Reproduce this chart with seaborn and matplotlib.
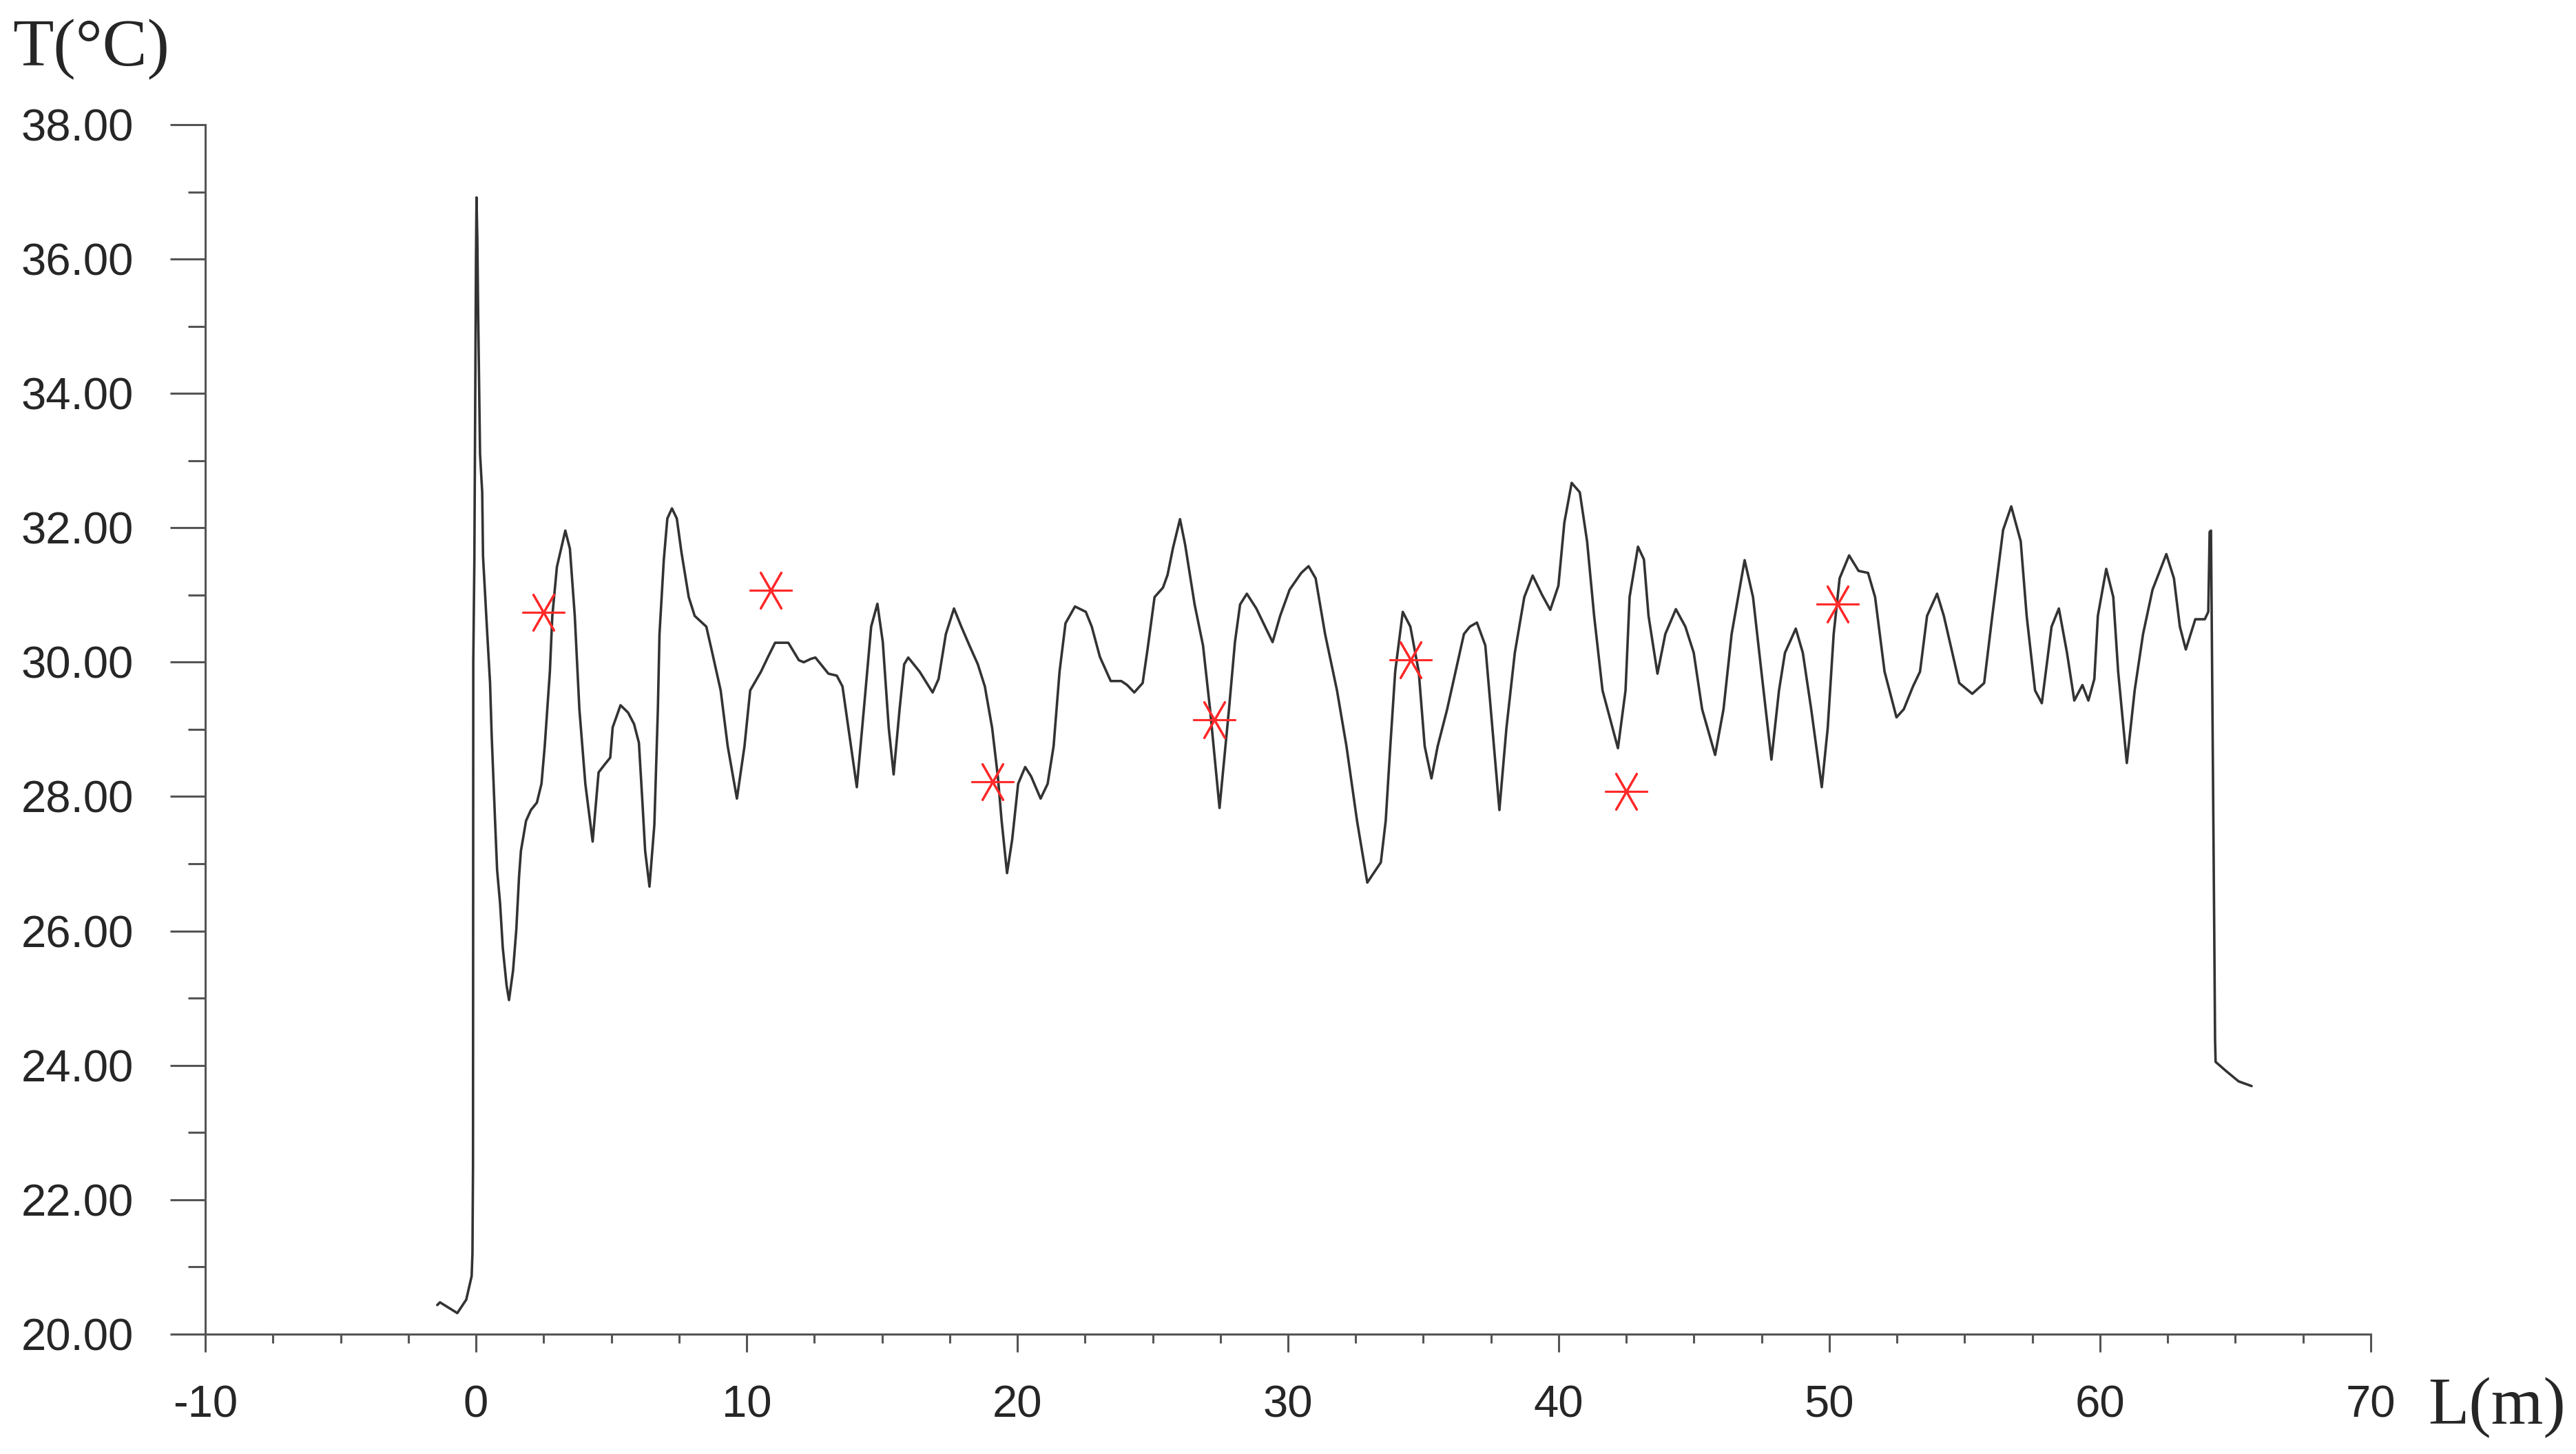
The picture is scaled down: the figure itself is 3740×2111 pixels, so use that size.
import numpy as np
import pandas as pd
import seaborn as sns
import matplotlib.pyplot as plt
from matplotlib.ticker import MultipleLocator, FormatStrFormatter

# temperature profile along the length
L_m = [-1.43, -1.33, -0.69, -0.36, -0.16, -0.13, -0.11, -0.10, -0.06, -0.02, 0.0, 0.02,
       0.05, 0.08, 0.12, 0.15, 0.23, 0.26, 0.41, 0.52, 0.58, 0.70, 0.78, 0.89, 0.99, 1.13,
       1.22, 1.37, 1.49, 1.59, 1.66, 1.85, 2.03, 2.25, 2.42, 2.54, 2.73, 2.82, 2.99, 3.30,
       3.47, 3.65, 3.82, 4.04, 4.31, 4.53, 4.74, 4.96, 5.05, 5.34, 5.62, 5.84, 6.02, 6.15,
       6.25, 6.41, 6.59, 6.72, 6.78, 6.94, 7.07, 7.24, 7.42, 7.59, 7.86, 8.08, 8.51, 8.73,
       9.04, 9.30, 9.64, 9.92, 10.13, 10.53, 10.79, 11.05, 11.54, 11.93, 12.11, 12.37,
       12.54, 13.02, 13.33, 13.54, 13.76, 14.07, 14.33, 14.60, 14.83, 15.03, 15.25, 15.43,
       15.65, 15.82, 15.97, 16.39, 16.87, 17.09, 17.36, 17.66, 17.93, 18.23, 18.54, 18.80,
       19.07, 19.28, 19.42, 19.62, 19.81, 20.03, 20.29, 20.51, 20.86, 21.12, 21.34, 21.56,
       21.78, 22.13, 22.53, 22.75, 23.05, 23.45, 23.84, 24.06, 24.32, 24.63, 24.81, 25.07,
       25.38, 25.55, 25.75, 26.01, 26.20, 26.55, 26.86, 27.12, 27.47, 27.82, 28.04, 28.23,
       28.48, 28.83, 29.43, 29.71, 30.06, 30.49, 30.76, 31.02, 31.37, 31.81, 32.16, 32.55,
       32.93, 33.43, 33.61, 33.78, 33.96, 34.24, 34.52, 34.83, 35.05, 35.30, 35.53, 35.88,
       36.19, 36.50, 36.72, 36.98, 37.29, 37.55, 37.81, 38.07, 38.38, 38.73, 39.04, 39.39,
       39.69, 39.99, 40.21, 40.48, 40.78, 41.05, 41.31, 41.62, 42.19, 42.47, 42.62, 42.93,
       43.15, 43.32, 43.65, 43.94, 44.33, 44.68, 44.99, 45.30, 45.78, 46.09, 46.39, 46.87,
       47.18, 47.49, 47.86, 48.14, 48.36, 48.76, 49.02, 49.33, 49.72, 49.94, 50.16, 50.38,
       50.73, 51.08, 51.43, 51.69, 52.04, 52.48, 52.75, 53.09, 53.35, 53.61, 53.98, 54.23,
       54.80, 55.28, 55.72, 56.02, 56.42, 56.72, 57.07, 57.29, 57.60, 57.85, 58.21, 58.48,
       58.78, 59.05, 59.35, 59.57, 59.79, 59.92, 60.23, 60.49, 60.67, 60.99, 61.28, 61.59,
       61.94, 62.45, 62.73, 62.95, 63.17, 63.52, 63.87, 64.00, 64.05, 64.10, 64.14, 64.22,
       64.25, 64.27, 64.64, 65.12, 65.60]
T_c = [20.43, 20.47, 20.31, 20.51, 20.86, 21.20, 22.50, 30.00, 31.50, 34.50, 36.00, 36.92,
       36.30, 35.20, 34.00, 33.10, 32.53, 31.58, 30.47, 29.69, 28.91, 27.69, 26.91, 26.41,
       25.75, 25.19, 24.97, 25.41, 26.02, 26.80, 27.19, 27.64, 27.80, 27.91, 28.19, 28.75,
       29.86, 30.69, 31.42, 31.96, 31.69, 30.69, 29.30, 28.19, 27.33, 28.36, 28.47, 28.58,
       29.03, 29.36, 29.25, 29.08, 28.80, 27.91, 27.19, 26.66, 27.58, 29.30, 30.42, 31.53,
       32.14, 32.29, 32.14, 31.64, 30.97, 30.69, 30.53, 30.14, 29.58, 28.75, 27.97, 28.75,
       29.58, 29.86, 30.08, 30.29, 30.29, 30.03, 30.00, 30.05, 30.07, 29.83, 29.80, 29.64,
       29.02, 28.14, 29.30, 30.53, 30.87, 30.30, 29.02, 28.33, 29.30, 29.97, 30.07, 29.86,
       29.55, 29.75, 30.42, 30.80, 30.53, 30.25, 29.97, 29.64, 29.02, 28.30, 27.64, 26.86,
       27.36, 28.19, 28.44, 28.30, 27.97, 28.19, 28.75, 29.86, 30.58, 30.83, 30.75, 30.53,
       30.08, 29.72, 29.72, 29.66, 29.55, 29.69, 30.19, 30.97, 31.11, 31.30, 31.70, 32.13,
       31.75, 30.86, 30.25, 29.30, 27.83, 29.30, 30.30, 30.86, 31.02, 30.80, 30.30, 30.69,
       31.08, 31.33, 31.43, 31.25, 30.42, 29.58, 28.75, 27.64, 26.72, 27.02, 27.64, 28.75,
       29.86, 30.75, 30.53, 29.86, 28.75, 28.27, 28.75, 29.30, 29.86, 30.42, 30.53, 30.59,
       30.25, 29.02, 27.80, 29.02, 30.14, 30.97, 31.29, 31.00, 30.78, 31.14, 32.08, 32.67,
       32.53, 31.80, 30.69, 29.58, 28.72, 29.58, 30.97, 31.72, 31.53, 30.69, 29.83, 30.42,
       30.79, 30.53, 30.14, 29.30, 28.62, 29.30, 30.42, 31.52, 30.97, 29.86, 28.55, 29.58,
       30.14, 30.50, 30.14, 29.30, 28.14, 29.02, 30.42, 31.25, 31.59, 31.36, 31.33, 30.97,
       29.86, 29.18, 29.30, 29.64, 29.86, 30.69, 31.02, 30.69, 29.69, 29.53, 29.69, 30.69,
       31.97, 32.32, 31.80, 30.69, 29.58, 29.39, 30.53, 30.80, 30.14, 29.43, 29.66, 29.43,
       29.75, 30.69, 31.39, 30.97, 29.86, 28.50, 29.58, 30.42, 31.08, 31.61, 31.25, 30.53,
       30.19, 30.64, 30.64, 30.75, 31.94, 31.96, 30.00, 26.00, 24.38, 24.05, 23.92, 23.76,
       23.69]

# measured points (red stars)
L_meas = [2.49, 10.88, 19.08, 27.27, 34.52, 42.50, 50.30]
T_meas = [30.74, 31.07, 28.22, 29.14, 30.04, 28.08, 30.87]

y_ticks = [20, 22, 24, 26, 28, 30, 32, 34, 36, 38]
x_ticks = [-10, 0, 10, 20, 30, 40, 50, 60, 70]

sns.set_style("white")
plt.rcParams['font.family'] = ['Liberation Sans', 'DejaVu Sans']
plt.rcParams['axes.unicode_minus'] = False

fig = plt.figure(figsize=(37.4, 21.11), dpi=100)
ax = fig.add_axes([0.0797, 0.0826, 0.8406, 0.8315])

profile = pd.DataFrame({"L": L_m, "T": T_c})
meas = pd.DataFrame({"L": L_meas, "T": T_meas})

sns.lineplot(data=profile, x="L", y="T", sort=False, estimator=None,
             color="#333333", linewidth=2.6, ax=ax)
sns.scatterplot(data=meas, x="L", y="T", marker=(6, 2, 90), s=43 ** 2,
                color="#ff2a2a", linewidth=2.2, ax=ax, zorder=3)

ax.set_xlim(-10, 70)
ax.set_ylim(20, 38)
ax.set_xticks(x_ticks)
ax.set_yticks(y_ticks)
ax.xaxis.set_minor_locator(MultipleLocator(2.5))
ax.yaxis.set_minor_locator(MultipleLocator(1))
ax.yaxis.set_major_formatter(FormatStrFormatter("%.2f"))

for s in ["top", "right"]:
    ax.spines[s].set_visible(False)
for s in ["left", "bottom"]:
    ax.spines[s].set_color("#555555")
    ax.spines[s].set_linewidth(2.2)

ax.tick_params(axis="y", which="major", direction="out", length=37, width=2.2,
               color="#555555", pad=38, labelsize=47, left=True)
ax.tick_params(axis="y", which="minor", direction="out", length=18, width=2.2,
               color="#555555", left=True)
ax.tick_params(axis="x", which="major", direction="out", length=19, width=2.2,
               color="#555555", pad=34, labelsize=47, bottom=True)
ax.tick_params(axis="x", which="minor", direction="out", length=9, width=2.2,
               color="#555555", bottom=True)

ax.set_xlabel("")
ax.set_ylabel("")
fig.text(0.0048, 0.955, "T(°C)", family=["Liberation Serif", "DejaVu Serif"],
         fontsize=70, ha="left", va="baseline")
fig.text(0.9425, 0.0208, "L(m)", family=["Liberation Serif", "DejaVu Serif"],
         fontsize=70, ha="left", va="baseline")

fig.savefig("out.png", dpi=100)
